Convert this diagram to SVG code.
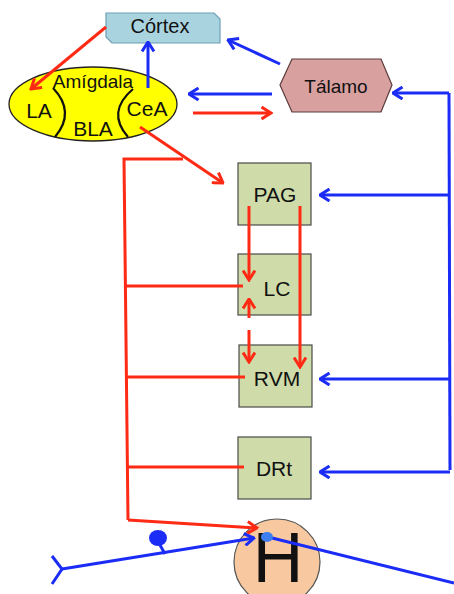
<svg xmlns="http://www.w3.org/2000/svg" width="454" height="594" viewBox="0 0 454 594">
<style>
text{font-family:"Liberation Sans",Arial,sans-serif;fill:#111;text-anchor:middle;dominant-baseline:central}
.r{stroke:#ff2a14;stroke-width:3;fill:none}
.b{stroke:#1a2cf5;stroke-width:3;fill:none}
.box{fill:#cfdca9;stroke:#4a4a4a;stroke-width:1.2}
.lbl{font-size:21px}
.ra{marker-end:url(#mr)}
.ba{marker-end:url(#mb)}
</style>
<defs>
<marker id="mr" viewBox="0 0 12 14" refX="10.5" refY="7" markerWidth="12" markerHeight="14" markerUnits="userSpaceOnUse" orient="auto">
<path d="M1,1 L10.5,7 L1,13" fill="none" stroke="#ff2a14" stroke-width="3"/>
</marker>
<marker id="mb" viewBox="0 0 12 14" refX="10.5" refY="7" markerWidth="12" markerHeight="14" markerUnits="userSpaceOnUse" orient="auto">
<path d="M1,1 L10.5,7 L1,13" fill="none" stroke="#1a2cf5" stroke-width="3"/>
</marker>
</defs>
<rect width="454" height="594" fill="#fff"/>

<g id="cortex">
<path d="M106,13 L214,13 L220,19 L220,43 L112,43 L106,37 Z" fill="#a9d3df" stroke="#6d9fb5" stroke-width="1.2"/>
<text x="160" y="26" font-size="20">Córtex</text>
</g>

<g id="talamo">
<path d="M280,85 L292,59 L381,59 L392,85 L381,112 L292,112 Z" fill="#d9a0a0" stroke="#5a3a3a" stroke-width="1.2"/>
<text x="336" y="86" font-size="19">Tálamo</text>
</g>

<g id="amigdala">
<ellipse cx="93" cy="104" rx="84" ry="37" fill="#ffff00" stroke="#222" stroke-width="1.3"/>
<path d="M53,88 Q76,112 55,137" fill="none" stroke="#111" stroke-width="2.2"/>
<path d="M133,89 Q106,112 128,137" fill="none" stroke="#111" stroke-width="2.2"/>
<text x="93" y="81" font-size="19">Amígdala</text>
<text x="39" y="110" font-size="21">LA</text>
<text x="93" y="128" font-size="21">BLA</text>
<text x="147" y="108" font-size="21">CeA</text>
</g>

<g id="pag"><rect class="box" x="238" y="163" width="73" height="62"/><text class="lbl" x="275" y="194">PAG</text></g>
<g id="lc"><rect class="box" x="238" y="254" width="73" height="61"/><text class="lbl" x="277" y="288">LC</text></g>
<g id="rvm"><rect class="box" x="239" y="345" width="73" height="62"/><text class="lbl" x="277" y="378">RVM</text></g>
<g id="drt"><rect class="box" x="238" y="437" width="73" height="62"/><text class="lbl" x="274" y="468">DRt</text></g>

<g id="h">
<circle cx="277" cy="562" r="43" fill="#f8c9a0" stroke="#555" stroke-width="1.2"/>
<text x="278" y="558" font-size="70">H</text>
</g>

<g id="connectors">
<!-- red -->
<path class="r ra" d="M106,27 L31,89"/>
<path class="r ra" d="M193,113 L271,113"/>
<path class="r ra" d="M140,127 L223,183"/>
<path class="r" d="M183,159 L124,159 L128,520"/>
<path class="r ra" d="M128,520 L257,528"/>
<path class="r" d="M125,286 L243,286"/>
<path class="r" d="M127,377 L245,377"/>
<path class="r" d="M128,467 L244,467"/>
<path class="r ra" d="M249,206 L249,280"/>
<path class="r ra" d="M300,206 L300,367"/>
<path class="r ra" d="M249,318 L249,299"/>
<path class="r ra" d="M249,330 L249,362"/>
<!-- blue -->
<path class="b ba" d="M148,88 L148,42"/>
<path class="b ba" d="M280,64 L228,40"/>
<path class="b ba" d="M272,94 L189,94"/>
<path class="b" d="M450,470 L449,93"/>
<path class="b ba" d="M449,93 L393,93"/>
<path class="b ba" d="M450,195 L320,195"/>
<path class="b ba" d="M450,379 L320,379"/>
<path class="b ba" d="M450,472 L320,472"/>
<path class="b ba" d="M62,569 L254,538"/>
<path class="b" d="M52,556 L62,569 L52,584"/>
<path class="b" d="M160,545 L165,554"/>
<ellipse cx="158" cy="538" rx="9" ry="8" fill="#1a2cf5"/>
<path class="b" d="M268,537 L454,583"/>
<ellipse cx="267" cy="537" rx="6" ry="5" fill="#3d7ef0"/>
</g>
</svg>
